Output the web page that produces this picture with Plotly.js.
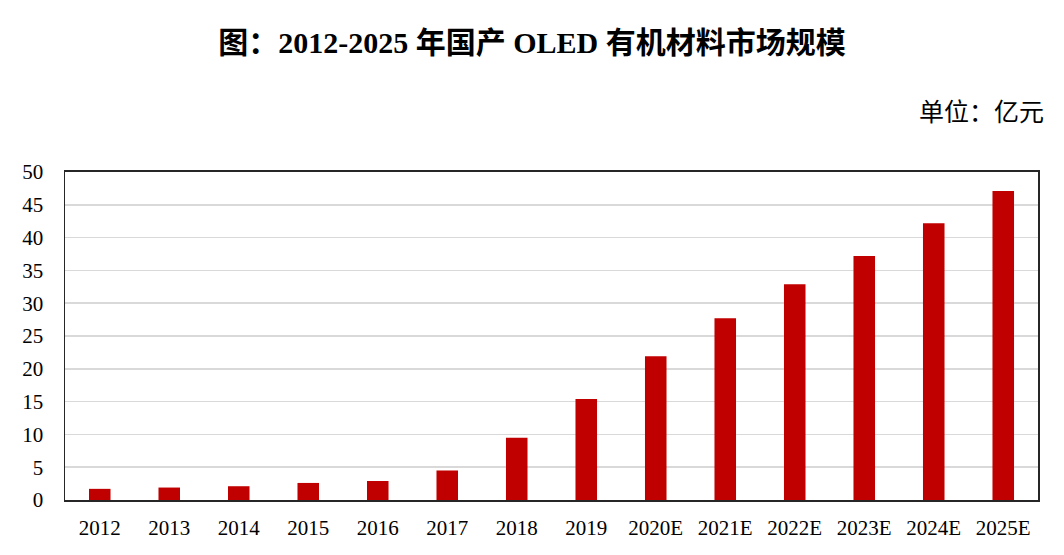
<!DOCTYPE html>
<html>
<head>
<meta charset="utf-8">
<script src="https://cdn.plot.ly/plotly-3.0.1.min.js"></script>
<style>
html,body{margin:0;padding:0;background:#fff;}
#chart{width:1064px;height:555px;}
</style>
</head>
<body>
<div id="chart"></div>
<script>
const categories = ["2012","2013","2014","2015","2016","2017","2018","2019","2020E","2021E","2022E","2023E","2024E","2025E"];
const marketSize = [1.7, 1.9, 2.1, 2.6, 2.9, 4.5, 9.5, 15.4, 21.9, 27.7, 32.9, 37.2, 42.2, 47.1];
const yTicks = [0,5,10,15,20,25,30,35,40,45,50];

const serif = '"Liberation Serif", "Times New Roman", "Noto Sans CJK SC", serif';

const trace = {
  type: 'bar',
  x: categories,
  y: marketSize,
  width: 0.31,
  marker: {color: '#C00000', line: {width: 0}},
  hoverinfo: 'x+y'
};

const layout = {
  width: 1064,
  height: 555,
  margin: {l: 65, r: 26, t: 172, b: 55},
  paper_bgcolor: '#ffffff',
  plot_bgcolor: '#ffffff',
  showlegend: false,
  title: {
    text: '<b>图：2012-2025 年国产 OLED 有机材料市场规模</b>',
    font: {family: serif, size: 30, color: '#000'},
    x: 0.5, xanchor: 'center',
    y: 0.924, yanchor: 'middle'
  },
  xaxis: {
    type: 'category',
    showline: true, linecolor: '#262626', linewidth: 2,
    mirror: true,
    showgrid: false,
    ticks: '', ticklabelstandoff: 8,
    tickfont: {family: serif, size: 21, color: '#000'},
    fixedrange: true
  },
  yaxis: {
    range: [0, 50],
    tickvals: yTicks,
    ticktext: yTicks.map(String),
    showline: true, linecolor: '#262626', linewidth: 1.5,
    mirror: true,
    showgrid: true, gridcolor: '#d9d9d9', gridwidth: 1.5,
    zeroline: false,
    ticks: '', ticklabelstandoff: 16,
    tickfont: {family: serif, size: 21, color: '#000'},
    fixedrange: true
  },
  annotations: [{
    text: '单位：亿元',
    xref: 'paper', yref: 'paper',
    x: 1.008, xanchor: 'right',
    y: 1.19, yanchor: 'middle',
    showarrow: false,
    font: {family: '"Noto Sans CJK SC", sans-serif', size: 25, color: '#000'}
  }]
};

Plotly.newPlot('chart', [trace], layout, {displayModeBar: false, staticPlot: true});
</script>
</body>
</html>
